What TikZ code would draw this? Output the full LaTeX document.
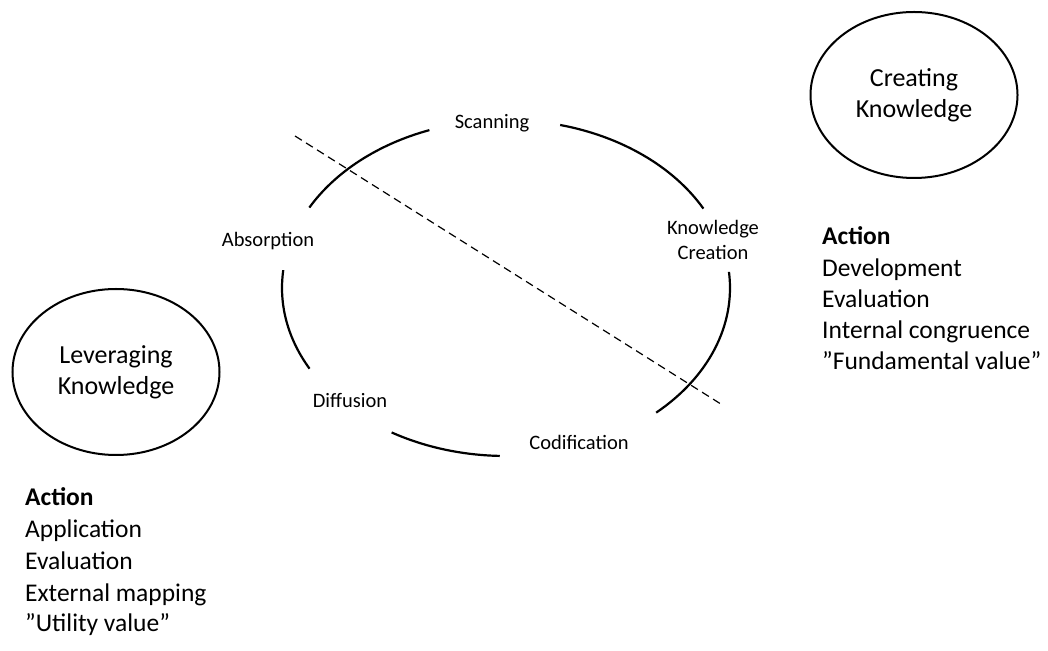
\documentclass[tikz,border=0pt]{standalone}
\usepackage{fontspec}
\setmainfont{Carlito}
\usetikzlibrary{shapes.geometric}

\begin{document}
\begin{tikzpicture}[x=1pt,y=1pt,
  cyclearc/.style={line width=2.2pt},
  phase/.style={font=\fontsize{20.5}{25}\selectfont, align=center, inner sep=0pt},
  blob/.style={draw, line width=2pt, ellipse, inner sep=0pt,
    minimum width=207pt, minimum height=166pt, align=center,
    font=\fontsize{26}{31}\selectfont},
  listline/.style={anchor=base west, inner sep=0pt, font=\fontsize{25.5}{31}\selectfont},
  divider/.style={line width=1.2pt, dash pattern=on 8pt off 5pt}
]
\useasboundingbox (0,0) rectangle (1048,650);

% knowledge cycle: an ellipse broken where the phase names sit
\coordinate (cyc) at (506,362);
\def\rx{224}\def\ry{168}
\draw[cyclearc] ([shift={(151.4:\rx pt and \ry pt)}]cyc) arc[start angle=151.4, end angle=110, x radius=\rx pt, y radius=\ry pt];
\draw[cyclearc] ([shift={(76:\rx pt and \ry pt)}]cyc) arc[start angle=76, end angle=28.2, x radius=\rx pt, y radius=\ry pt];
\draw[cyclearc] ([shift={(5.5:\rx pt and \ry pt)}]cyc) arc[start angle=5.5, end angle=-47.9, x radius=\rx pt, y radius=\ry pt];
\draw[cyclearc] ([shift={(-91.6:\rx pt and \ry pt)}]cyc) arc[start angle=-91.6, end angle=-120.7, x radius=\rx pt, y radius=\ry pt];
\draw[cyclearc] ([shift={(173.9:\rx pt and \ry pt)}]cyc) arc[start angle=173.9, end angle=208.7, x radius=\rx pt, y radius=\ry pt];

% phase names
\node[phase] (scan) at (492,527) {Scanning};
\node[phase] (kc)   at (713,410) {Knowledge\\Creation};
\node[phase] (absb) at (268,409) {Absorption};
\node[phase] (diff) at (350,250) {Diffusion};
\node[phase] (codf) at (579,208) {Codification};

% dividing line across the cycle
\coordinate (dA) at (295,514);
\coordinate (dB) at (724,244);
\draw[divider] (dA) -- (dB);

% the two knowledge modes
\node[blob] (create) at (914,555) {Creating\\Knowledge};
\node[blob] (lever)  at (116,278) {Leveraging\\Knowledge};

% actions for creating knowledge
\node[listline] (ra0) at (822,405) {\textbf{Action}};
\node[listline] (ra1) at (822,373) {Development};
\node[listline] (ra2) at (822,342) {Evaluation};
\node[listline] (ra3) at (822,311) {Internal congruence};
\node[listline] (ra4) at (822,280) {”Fundamental value”};

% actions for leveraging knowledge
\node[listline] (la0) at (25,144) {\textbf{Action}};
\node[listline] (la1) at (25,112) {Application};
\node[listline] (la2) at (25,81)  {Evaluation};
\node[listline] (la3) at (25,49)  {External mapping};
\node[listline] (la4) at (25,19)  {”Utility value”};
\end{tikzpicture}
\end{document}
